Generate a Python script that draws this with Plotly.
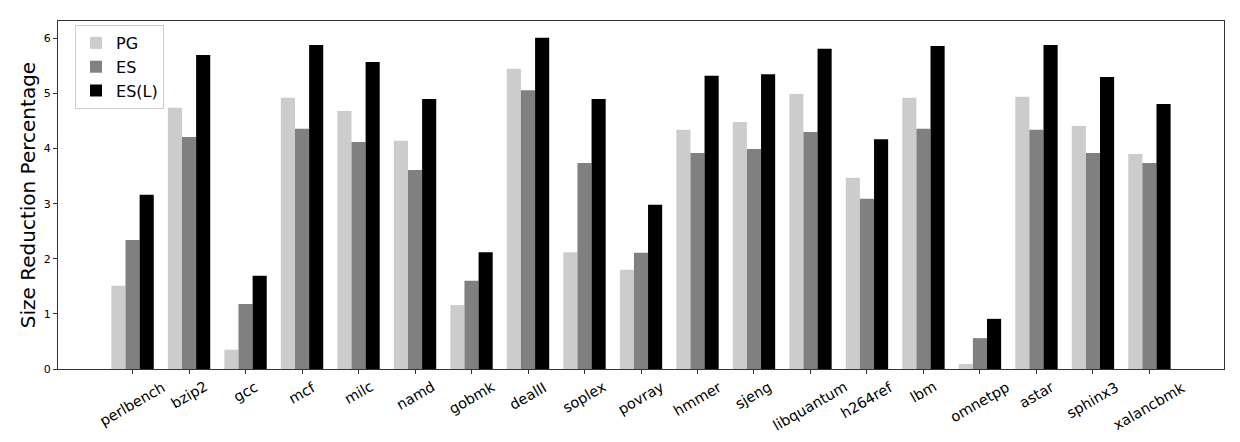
import plotly.graph_objects as go

categories = ["perlbench", "bzip2", "gcc", "mcf", "milc", "namd", "gobmk", "dealII",
              "soplex", "povray", "hmmer", "sjeng", "libquantum", "h264ref", "lbm",
              "omnetpp", "astar", "sphinx3", "xalancbmk"]
pg = [1.51, 4.74, 0.35, 4.92, 4.68, 4.14, 1.16, 5.45, 2.12, 1.80, 4.34, 4.48, 4.99,
      3.47, 4.92, 0.09, 4.94, 4.41, 3.90]
es = [2.34, 4.21, 1.18, 4.36, 4.12, 3.61, 1.60, 5.06, 3.74, 2.11, 3.92, 3.99, 4.30,
      3.09, 4.36, 0.56, 4.34, 3.92, 3.74]
esl = [3.16, 5.70, 1.69, 5.88, 5.57, 4.90, 2.12, 6.01, 4.90, 2.98, 5.32, 5.35, 5.81,
       4.17, 5.86, 0.91, 5.88, 5.30, 4.81]
series_names = ["PG", "ES", "ES(L)"]
series_colors = ["#cccccc", "#808080", "#000000"]
y_ticks = [0, 1, 2, 3, 4, 5, 6]

fig = go.Figure()
for name, vals, col in zip(series_names, [pg, es, esl], series_colors):
    fig.add_trace(go.Bar(x=categories, y=vals, name=name, marker_color=col,
                         marker_line_width=0))

# rotated category labels centred under each tick (matplotlib style)
for cat in categories:
    fig.add_annotation(x=cat, xref="x", y=0, yref="paper", text=cat, showarrow=False,
                       textangle=-30, xanchor="center", yanchor="top", yshift=-7,
                       font=dict(size=14.5, color="#000000"))

# page body has an 8px margin, so the figure is sized to fit the 1240x442 window
fig.update_layout(
    width=1224, height=426,
    margin=dict(l=50, r=8, t=13, b=65),
    paper_bgcolor="white", plot_bgcolor="white",
    barmode="group", bargap=0.25, bargroupgap=0,
    font=dict(family="DejaVu Sans", color="#000000"),
    legend=dict(x=0.0146, y=0.9885, xanchor="left", yanchor="top",
                bgcolor="rgba(255,255,255,0.8)", bordercolor="#cccccc", borderwidth=1,
                font=dict(size=16), itemwidth=30),
    showlegend=True,
)
fig.update_xaxes(range=[-1.32, 19.32], showline=True, linecolor="#333333", linewidth=1,
                 mirror=True, ticks="outside", ticklen=4, tickcolor="#333333",
                 showticklabels=False, showgrid=False, automargin=False)
fig.update_yaxes(range=[0, 6.315], showline=True, linecolor="#333333", linewidth=1,
                 mirror=True, ticks="outside", ticklen=4, tickcolor="#333333",
                 tickvals=y_ticks, tickfont=dict(size=11), showgrid=False, zeroline=False,
                 automargin=False,
                 title=dict(text="Size Reduction Percentage", font=dict(size=20), standoff=2))

fig.write_html("out.html")
